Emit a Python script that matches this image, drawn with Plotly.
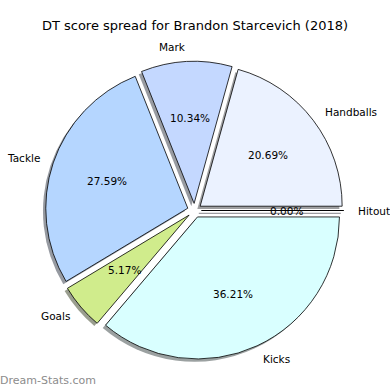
import math
import plotly.graph_objects as go

labels = ["Handballs", "Mark", "Tackle", "Goals", "Kicks", "Hitout"]
values = [12, 6, 16, 3, 21, 0]
colors = ["#ebf2ff", "#c4d8ff", "#b5d6ff", "#d0ec8c", "#d9ffff", "#e0e0ff"]
title_text = "DT score spread for Brandon Starcevich (2018)"
watermark = "Dream-Stats.com"

W = H = 390
PULL = 0.05
R_PX = 142.0
CX_PX, CY_PX = 194.5, 210.5  # centre in screen pixels (y down)
SHADOW_PX = 2.8
FONT = "DejaVu Sans"
LABEL_SIZE = 10.5

half = R_PX * (1 + PULL)
total = sum(values)
# plotly's counterclockwise pies end the first slice at `rotation`; start it at 3 o'clock instead
ROT = 90 - 360.0 * values[0] / total


def dom(cx, cy):
    yb = H - cy
    return dict(x=[(cx - half) / W, (cx + half) / W], y=[(yb - half) / H, (yb + half) / H])


def shadow_color(hexc):
    r, g, b = (int(hexc[i:i + 2], 16) / 255 for i in (1, 3, 5))
    return "rgb(%d,%d,%d)" % tuple(round(255 * (0.48 + 0.15 * c)) for c in (r, g, b))


fig = go.Figure()
fig.add_trace(go.Pie(
    labels=[l + " " for l in labels], values=values, sort=False, direction="counterclockwise",
    rotation=ROT, pull=[PULL] * len(values), textinfo="none", hoverinfo="skip", showlegend=False,
    marker=dict(colors=[shadow_color(c) for c in colors], line=dict(width=0)),
    domain=dom(CX_PX - SHADOW_PX, CY_PX + SHADOW_PX),
))
fig.add_trace(go.Pie(
    labels=labels, values=values, sort=False, direction="counterclockwise",
    rotation=ROT, pull=[PULL] * len(values), textinfo="none", showlegend=False,
    marker=dict(colors=colors, line=dict(color="black", width=0.8)),
    domain=dom(CX_PX, CY_PX),
))

cum = 0.0
for lab, v, col in zip(labels, values, colors):
    t1 = 360.0 * cum / total
    cum += v
    t2 = 360.0 * cum / total
    tm = math.radians((t1 + t2) / 2)
    c, s = math.cos(tm), math.sin(tm)
    cx = CX_PX + PULL * R_PX * c
    cy = CY_PX - PULL * R_PX * s
    lx = CX_PX + (PULL + 1.1) * R_PX * c
    ly = CY_PX - (PULL + 1.1) * R_PX * s
    fig.add_annotation(x=lx / W, y=1 - ly / H, xref="paper", yref="paper", text=lab,
                       showarrow=False, xanchor="left" if c > 0 else "right", yanchor="middle",
                       borderpad=0, borderwidth=0,
                       font=dict(family=FONT, size=LABEL_SIZE, color="black"))
    px = CX_PX + (PULL + 0.6) * R_PX * c
    py = CY_PX - (PULL + 0.6) * R_PX * s
    fig.add_annotation(x=px / W, y=1 - py / H, xref="paper", yref="paper",
                       text="%.2f%%" % (100.0 * v / total),
                       showarrow=False, xanchor="center", yanchor="middle",
                       borderpad=0, borderwidth=0,
                       font=dict(family=FONT, size=LABEL_SIZE, color="black"))
    if v == 0:
        a = math.radians(t1)
        ex = cx + R_PX * math.cos(a)
        ey = cy - R_PX * math.sin(a)
        fig.add_shape(type="line", xref="paper", yref="paper",
                      x0=(cx - SHADOW_PX) / W, y0=1 - (cy + SHADOW_PX) / H,
                      x1=(ex - SHADOW_PX) / W, y1=1 - (ey + SHADOW_PX) / H,
                      line=dict(color=shadow_color(col), width=1.2))
        fig.add_shape(type="line", xref="paper", yref="paper",
                      x0=cx / W, y0=1 - cy / H, x1=ex / W, y1=1 - ey / H,
                      line=dict(color="black", width=0.8))

fig.add_annotation(x=0, y=1 - 380 / H, xref="paper", yref="paper", text=watermark,
                   showarrow=False, xanchor="left", yanchor="middle", borderpad=0, borderwidth=0,
                   font=dict(family=FONT, size=11, color="#8c8c8c"))

fig.update_layout(
    width=W, height=H, margin=dict(l=0, r=0, t=0, b=0),
    paper_bgcolor="white", plot_bgcolor="white",
    title=dict(text=title_text, x=0.5, xanchor="center", y=1 - 25 / H, yanchor="middle",
               font=dict(family=FONT, size=13, color="black")),
)

fig.write_html("out.html", config={"displayModeBar": False},
               post_script="document.body.style.margin='0';document.body.style.overflow='hidden';")
